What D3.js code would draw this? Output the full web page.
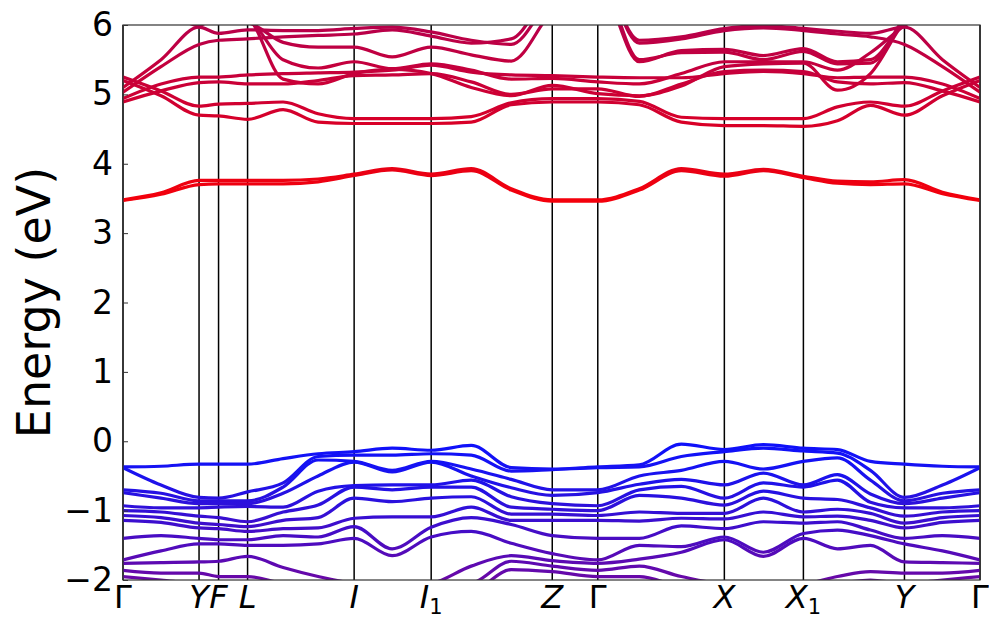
<!DOCTYPE html>
<html>
<head>
<meta charset="utf-8">
<script src="https://cdn.jsdelivr.net/npm/d3@7"></script>
<style>
  body { margin: 0; background: #fff; }
  svg { display: block; }
  text { font-family: "DejaVu Sans", sans-serif; fill: #000; }
</style>
</head>
<body>
<svg id="chart" width="989" height="622"></svg>
<script>
// k-path distance of every sampled point along Γ–Y–F–L–I–I1–Z–Γ–X–X1–Y–Γ
const kGrid = [0, 38, 76, 95.5, 124.5, 160, 195, 231, 269, 308, 348, 388, 429,
               474.5, 516, 558, 601, 640, 680, 714, 747, 781, 819, 856.5];

// high-symmetry points
const symPos    = [0, 76, 95.5, 124.5, 231, 308, 429, 474.5, 601, 680, 781, 856.5];
const symLabels = ["Γ", "Y", "F", "L", "I", "I1", "Z", "Γ", "X", "X1", "Y", "Γ"];

const energyTicks = [-2, -1, 0, 1, 2, 3, 4, 5, 6];

// conduction bands (eV)
const cbA = [3.47, 3.56, 3.70, 3.71, 3.71, 3.71, 3.74, 3.83, 3.91, 3.83, 3.90, 3.62, 3.46, 3.46, 3.62, 3.90, 3.82, 3.90, 3.80, 3.72, 3.70, 3.71, 3.57, 3.47];
const cbB = [3.48, 3.58, 3.76, 3.76, 3.76, 3.76, 3.78, 3.85, 3.93, 3.85, 3.93, 3.64, 3.48, 3.48, 3.64, 3.93, 3.85, 3.92, 3.82, 3.75, 3.74, 3.77, 3.59, 3.48];
const cb1 = [5.10, 5.50, 5.97, 5.88, 5.93, 5.92, 5.92, 5.95, 5.97, 5.90, 5.78, 5.72, 6.40, 6.70, 5.78, 5.83, 5.95, 5.99, 5.95, 5.91, 5.88, 5.97, 5.50, 5.10];
const cb2 = [5.03, 5.40, 5.72, 5.78, 5.80, 5.83, 5.85, 5.87, 5.93, 5.84, 5.74, 5.80, 6.50, 6.70, 5.74, 5.80, 5.92, 5.96, 5.92, 5.87, 5.83, 5.72, 5.40, 5.03];
const cb3 = [5.25, 5.05, 4.83, 4.86, 4.87, 4.89, 4.72, 4.65, 4.65, 4.65, 4.68, 4.88, 4.94, 4.94, 4.90, 4.67, 4.65, 4.65, 4.65, 4.82, 4.89, 4.83, 5.05, 5.25];
const cb4 = [5.20, 4.98, 4.70, 4.69, 4.64, 4.78, 4.60, 4.58, 4.58, 4.58, 4.60, 4.85, 4.89, 4.89, 4.85, 4.60, 4.55, 4.55, 4.54, 4.62, 4.84, 4.70, 4.98, 5.20];
const cb5 = [4.94, 5.15, 5.25, 5.25, 5.28, 5.30, 5.31, 5.32, 5.35, 5.42, 5.32, 5.28, 5.27, 5.25, 5.24, 5.24, 5.30, 5.33, 5.30, 5.24, 5.25, 5.25, 5.15, 4.94];
const cb6 = [4.89, 5.05, 5.17, 5.18, 5.15, 5.15, 5.20, 5.27, 5.28, 5.30, 5.18, 5.00, 5.08, 5.08, 4.97, 5.15, 5.33, 5.35, 5.33, 5.18, 5.15, 5.17, 5.05, 4.89];
const cb7 = [6.60, 6.30, 5.99, 6.15, 6.08, 5.50, 5.38, 5.47, 5.37, 5.44, 5.35, 5.22, 5.23, 5.18, 5.15, 5.30, 5.47, 5.47, 5.47, 5.35, 5.60, 5.99, 6.30, 6.60];
const cb8 = [6.80, 6.50, 6.05, 6.20, 6.10, 5.22, 5.15, 5.30, 5.36, 5.30, 5.10, 4.98, 5.13, 5.01, 4.98, 5.12, 5.40, 5.44, 5.45, 5.06, 5.30, 6.05, 6.50, 6.80];
const cb9 = [6.80, 6.40, 6.05, 6.05, 6.03, 5.75, 5.68, 5.68, 5.54, 5.68, 5.57, 5.48, 6.20, 6.60, 5.47, 5.63, 5.65, 5.56, 5.66, 5.47, 5.50, 6.05, 6.40, 6.80];
const cb10 = [6.90, 6.60, 6.30, 6.25, 6.20, 6.20, 6.20, 6.25, 6.30, 6.25, 6.30, 6.40, 6.60, 6.70, 5.50, 5.60, 5.61, 5.50, 5.62, 5.44, 5.45, 6.10, 6.60, 6.90];

// valence bands (eV), ordered by energy at each k
const vb1  = [-0.37, -0.36, -0.33, -0.33, -0.33, -0.25, -0.18, -0.15, -0.10, -0.13, -0.06, -0.38, -0.40, -0.37, -0.34, -0.04, -0.12, -0.05, -0.10, -0.12, -0.29, -0.33, -0.36, -0.37];
const vb2  = [-0.38, -0.63, -0.81, -0.82, -0.73, -0.60, -0.22, -0.20, -0.20, -0.18, -0.20, -0.43, -0.41, -0.38, -0.37, -0.22, -0.15, -0.10, -0.14, -0.17, -0.42, -0.81, -0.63, -0.38];
const vb3  = [-0.70, -0.75, -0.86, -0.86, -0.86, -0.66, -0.27, -0.29, -0.42, -0.29, -0.40, -0.55, -0.70, -0.70, -0.50, -0.42, -0.29, -0.40, -0.29, -0.24, -0.56, -0.86, -0.75, -0.70];
const vb4  = [-0.74, -0.82, -0.90, -0.90, -0.90, -0.75, -0.50, -0.30, -0.44, -0.30, -0.50, -0.67, -0.78, -0.74, -0.62, -0.55, -0.63, -0.46, -0.63, -0.48, -0.76, -0.90, -0.82, -0.74];
const vb5  = [-0.93, -0.96, -0.96, -0.95, -0.94, -0.95, -0.72, -0.64, -0.63, -0.63, -0.56, -0.80, -0.90, -0.93, -0.70, -0.65, -0.82, -0.60, -0.66, -0.56, -0.88, -0.96, -0.96, -0.93];
const vb6  = [-1.00, -1.02, -1.08, -1.10, -1.16, -1.02, -0.92, -0.66, -0.70, -0.66, -0.66, -0.95, -0.98, -1.00, -0.78, -0.82, -0.92, -0.72, -0.82, -0.84, -0.96, -1.08, -1.02, -1.00];
const vb7  = [-1.07, -1.10, -1.18, -1.20, -1.23, -1.14, -1.10, -0.82, -0.87, -0.82, -0.80, -1.05, -1.05, -1.07, -1.02, -1.04, -1.04, -0.82, -1.02, -0.98, -1.04, -1.18, -1.10, -1.07];
const vb8  = [-1.14, -1.17, -1.25, -1.26, -1.30, -1.26, -1.25, -1.11, -1.09, -1.09, -0.95, -1.14, -1.14, -1.14, -1.15, -1.11, -1.12, -1.02, -1.09, -1.08, -1.14, -1.25, -1.17, -1.14];
const vb9  = [-1.40, -1.36, -1.40, -1.42, -1.42, -1.36, -1.38, -1.23, -1.55, -1.24, -1.10, -1.20, -1.36, -1.40, -1.40, -1.22, -1.26, -1.16, -1.18, -1.16, -1.28, -1.40, -1.36, -1.40];
const vb10 = [-1.71, -1.58, -1.48, -1.48, -1.50, -1.50, -1.48, -1.40, -1.65, -1.38, -1.30, -1.47, -1.62, -1.71, -1.50, -1.52, -1.38, -1.60, -1.33, -1.28, -1.36, -1.48, -1.58, -1.71];
const vb11 = [-1.76, -1.75, -1.74, -1.73, -1.66, -1.82, -1.95, -2.05, -2.10, -2.05, -1.80, -1.65, -1.72, -1.76, -1.70, -1.60, -1.42, -1.66, -1.40, -1.55, -1.50, -1.74, -1.75, -1.76];
const vb12 = [-1.86, -1.90, -1.90, -1.95, -1.95, -2.05, -2.10, -2.10, -2.15, -2.10, -2.05, -1.73, -1.80, -1.86, -1.80, -1.95, -2.05, -2.05, -2.05, -1.95, -1.88, -1.90, -1.90, -1.86];
const vb13 = [-1.95, -2.00, -2.05, -2.05, -2.05, -2.15, -2.20, -2.15, -2.20, -2.15, -2.15, -1.85, -1.88, -1.95, -1.95, -2.10, -2.15, -2.10, -2.10, -2.05, -2.00, -2.05, -2.00, -1.95];

const bands = [cbA, cbB, cb1, cb2, cb3, cb4, cb5, cb6, cb7, cb8, cb9, cb10,
               vb1, vb2, vb3, vb4, vb5, vb6, vb7, vb8, vb9, vb10, vb11, vb12, vb13];

// band colour follows energy: crimson high, red near the gap edge, blue to purple below
const colorStops = [
  { e: 6.2, c: "#b3004f" },
  { e: 5.5, c: "#c2003f" },
  { e: 4.8, c: "#d2002f" },
  { e: 4.2, c: "#e3001a" },
  { e: 3.4, c: "#f5000a" },
  { e: 0.2, c: "#0a10ff" },
  { e: -0.4, c: "#1612f2" },
  { e: -0.9, c: "#2c10dc" },
  { e: -1.4, c: "#4a0cc2" },
  { e: -2.0, c: "#6a08a6" }
];

const W = 989, H = 622;
const margin = { left: 123, right: 9, top: 25, bottom: 42 };
const svg = d3.select("#chart");

const x = d3.scaleLinear().domain([0, 856.5]).range([margin.left, W - margin.right]);
const y = d3.scaleLinear().domain([-2, 6]).range([H - margin.bottom, margin.top]);

const defs = svg.append("defs");
defs.append("clipPath").attr("id", "plotClip")
  .append("rect")
  .attr("x", x(0)).attr("y", y(6))
  .attr("width", x(856.5) - x(0)).attr("height", y(-2) - y(6));

const grad = defs.append("linearGradient")
  .attr("id", "bandGrad")
  .attr("gradientUnits", "userSpaceOnUse")
  .attr("x1", 0).attr("x2", 0)
  .attr("y1", y(6.2)).attr("y2", y(-2.0));
const gy = d3.scaleLinear().domain([6.2, -2.0]).range([0, 1]);
colorStops.forEach(s => grad.append("stop").attr("offset", gy(s.e)).attr("stop-color", s.c));

// vertical lines at the high-symmetry points
svg.append("g").selectAll("line").data(symPos).join("line")
  .attr("x1", d => x(d)).attr("x2", d => x(d))
  .attr("y1", y(6)).attr("y2", y(-2))
  .attr("stroke", "#000").attr("stroke-width", 1.5);

// bands
const line = d3.line()
  .x((d, i) => x(kGrid[i]))
  .y(d => y(d))
  .curve(d3.curveMonotoneX);

svg.append("g").attr("clip-path", "url(#plotClip)")
  .selectAll("path").data(bands).join("path")
  .attr("d", line)
  .attr("fill", "none")
  .attr("stroke", "url(#bandGrad)")
  .attr("stroke-width", 3.2)
  .attr("stroke-linejoin", "round")
  .attr("stroke-linecap", "round");

// frame
svg.append("rect")
  .attr("x", x(0)).attr("y", y(6))
  .attr("width", x(856.5) - x(0)).attr("height", y(-2) - y(6))
  .attr("fill", "none").attr("stroke", "#333").attr("stroke-width", 1.2);

// energy axis, ticks pointing inward
const yAxis = d3.axisLeft(y)
  .tickValues(energyTicks)
  .tickFormat(d3.format("d"))
  .tickSizeInner(-5)
  .tickSizeOuter(0)
  .tickPadding(10);
const ya = svg.append("g").attr("transform", `translate(${x(0)},0)`).call(yAxis);
ya.select(".domain").remove();
ya.selectAll(".tick line").attr("stroke", "#333");
ya.selectAll(".tick text")
  .style("font-family", "'DejaVu Sans', sans-serif")
  .style("font-size", "33px")
  .attr("fill", "#000");

svg.append("text")
  .attr("transform", `translate(34,${(y(6) + y(-2)) / 2}) rotate(-90)`)
  .attr("text-anchor", "middle")
  .attr("dominant-baseline", "central")
  .style("font-size", "46px")
  .text("Energy (eV)");

// high-symmetry labels
const labels = svg.append("g");
symLabels.forEach((lab, i) => {
  const t = labels.append("text")
    .attr("x", x(symPos[i]))
    .attr("y", 608)
    .attr("text-anchor", "middle")
    .style("font-size", "32px");
  const base = lab[0];
  const sub = lab.slice(1);
  t.append("tspan")
    .style("font-style", base === "Γ" ? "normal" : "italic")
    .text(base);
  if (sub) {
    t.append("tspan").attr("dy", 6).style("font-size", "21px").text(sub);
  }
});
</script>
</body>
</html>
